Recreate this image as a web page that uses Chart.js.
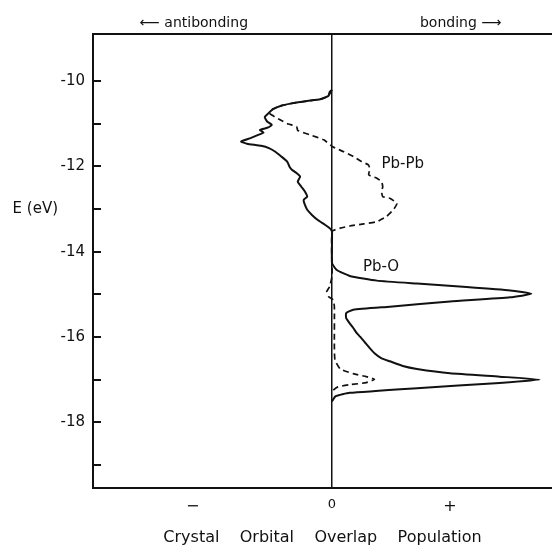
<!DOCTYPE html>
<html>
<head>
<meta charset="utf-8">
<script src="https://cdn.jsdelivr.net/npm/chart.js@4/dist/chart.umd.min.js"></script>
<style>
  body { margin: 0; background: #fff; }
  #wrap { width: 552px; height: 550px; }
</style>
</head>
<body>
<div id="wrap"><canvas id="coopChart"></canvas></div>
<script>
// Pb-O curve (solid): energy in eV and COOP value
const pbO_E = [
  -10.21, -10.26, -10.35, -10.43, -10.47, -10.52, -10.58, -10.66, -10.76, -10.85,
  -10.95, -11.03, -11.09, -11.15, -11.21, -11.26, -11.34, -11.42, -11.47, -11.52,
  -11.58, -11.66, -11.77, -11.89, -12.01, -12.08, -12.16, -12.24, -12.36, -12.48,
  -12.59, -12.71, -12.79, -12.90, -13.02, -13.14, -13.26, -13.37, -13.45, -13.53,
  -14.27, -14.43, -14.57, -14.68, -14.75, -14.83, -14.91, -14.99, -15.07, -15.17,
  -15.29, -15.36, -15.44, -15.56, -15.68, -15.79, -15.91, -16.00, -16.13, -16.26,
  -16.38, -16.50, -16.57, -16.68, -16.75, -16.85, -16.93, -17.00, -17.08, -17.20,
  -17.31, -17.39, -17.51
];
const pbO_coop = [
  0, -0.02, -0.03, -0.10, -0.21, -0.33, -0.43, -0.50, -0.54, -0.57,
  -0.55, -0.51, -0.54, -0.61, -0.58, -0.62, -0.69, -0.77, -0.72, -0.60,
  -0.53, -0.48, -0.43, -0.38, -0.36, -0.34, -0.30, -0.27, -0.29, -0.26,
  -0.23, -0.21, -0.24, -0.23, -0.21, -0.17, -0.12, -0.06, -0.02, 0,
  0, 0.04, 0.15, 0.38, 0.72, 1.14, 1.51, 1.69, 1.51, 1.00,
  0.49, 0.18, 0.12, 0.12, 0.15, 0.18, 0.21, 0.24, 0.28, 0.32,
  0.36, 0.42, 0.49, 0.60, 0.72, 1.00, 1.42, 1.76, 1.42, 0.72,
  0.15, 0.03, 0
];

// Pb-Pb curve (dashed)
const pbPb_E = [
  -10.21, -10.35, -10.43, -10.47, -10.52, -10.58, -10.66, -10.75, -10.80, -10.91,
  -11.01, -11.07, -11.16, -11.26, -11.38, -11.55, -11.66, -11.77, -11.89, -11.97,
  -12.08, -12.20, -12.28, -12.36, -12.48, -12.59, -12.71, -12.75, -12.87, -13.02,
  -13.18, -13.30, -13.35, -13.40, -13.45, -13.53,
  -14.57, -14.82, -14.94, -15.05, -15.13, -15.29, -16.22, -16.54, -16.75, -16.86,
  -16.93, -16.99, -17.07, -17.12, -17.17, -17.25, -17.31
];
const pbPb_coop = [
  0, -0.03, -0.10, -0.21, -0.33, -0.43, -0.50, -0.53, -0.51, -0.44,
  -0.37, -0.30, -0.29, -0.19, -0.07, 0.01, 0.10, 0.18, 0.25, 0.31,
  0.32, 0.31, 0.38, 0.42, 0.43, 0.42, 0.43, 0.49, 0.55, 0.52,
  0.46, 0.38, 0.27, 0.15, 0.07, 0,
  0, -0.02, -0.045, -0.03, 0.01, 0.02, 0.02, 0.025, 0.07, 0.18,
  0.29, 0.36, 0.29, 0.15, 0.05, 0.01, 0
];

// axes
const yTicks = [-10, -11, -12, -13, -14, -15, -16, -17, -18, -19];
const xTickVals = [-1.18, 0, 1];
const xTickText = ['\u2212', '0', '+'];
const topTickVals = [-1.17, 1.09];
const topTickText = ['\u27F5 antibonding', 'bonding \u27F6'];
const xTitle = 'Crystal    Orbital    Overlap    Population';
const yTitle = 'E (eV)';

const X_MIN = -2.025, X_MAX = 1.864;
const Y_MIN = -19.54, Y_MAX = -8.9;
const INK = '#111';
const FONT = 'DejaVu Sans';

const toPoints = (es, cs) => es.map((e, i) => ({ x: cs[i], y: e }));

// curve names written next to the curves
const curveLabels = {
  id: 'curveLabels',
  afterDatasetsDraw(chart) {
    const { ctx, scales: { x, y } } = chart;
    ctx.save();
    ctx.font = `15px "${FONT}"`;
    ctx.fillStyle = INK;
    ctx.textAlign = 'center';
    ctx.textBaseline = 'middle';
    ctx.fillText('Pb-Pb', x.getPixelForValue(0.60), y.getPixelForValue(-11.96));
    ctx.fillText('Pb-O', x.getPixelForValue(0.415), y.getPixelForValue(-14.37));
    ctx.restore();
  }
};

new Chart(document.getElementById('coopChart'), {
  type: 'scatter',
  data: {
    datasets: [
      {
        label: 'Pb-O',
        data: toPoints(pbO_E, pbO_coop),
        showLine: true,
        borderColor: INK,
        borderWidth: 2,
        pointRadius: 0,
        tension: 0.15,
        fill: false
      },
      {
        label: 'Pb-Pb',
        data: toPoints(pbPb_E, pbPb_coop),
        showLine: true,
        borderColor: INK,
        borderWidth: 1.7,
        borderDash: [6, 4],
        pointRadius: 0,
        tension: 0.15,
        fill: false
      }
    ]
  },
  options: {
    responsive: true,
    maintainAspectRatio: false,
    animation: false,
    layout: { padding: 0 },
    plugins: { legend: { display: false }, tooltip: { enabled: false } },
    scales: {
      x: {
        type: 'linear',
        position: 'bottom',
        min: X_MIN,
        max: X_MAX,
        afterBuildTicks: s => { s.ticks = xTickVals.map(v => ({ value: v })); },
        afterFit: s => { s.height = 62; },
        grid: {
          drawTicks: false,
          lineWidth: 1.5,
          color: c => (c.tick && c.tick.value === 0) ? INK : 'rgba(0,0,0,0)'
        },
        border: { display: true, color: INK, width: 2 },
        ticks: {
          padding: 9,
          color: INK,
          autoSkip: false,
          maxRotation: 0,
          font: c => ({ family: FONT, size: (c.tick && c.tick.value === 0) ? 13 : 16 }),
          callback: (v, i) => xTickText[i]
        },
        title: {
          display: true,
          text: xTitle,
          color: INK,
          font: { family: FONT, size: 16 },
          padding: { top: 0, bottom: 3 }
        }
      },
      xTop: {
        type: 'linear',
        position: 'top',
        min: X_MIN,
        max: X_MAX,
        afterBuildTicks: s => { s.ticks = topTickVals.map(v => ({ value: v })); },
        afterFit: s => { s.height = 34; },
        grid: { display: false, drawTicks: false },
        border: { display: true, color: INK, width: 2 },
        ticks: {
          padding: 2,
          color: INK,
          autoSkip: false,
          maxRotation: 0,
          font: { family: FONT, size: 14 },
          callback: (v, i) => topTickText[i]
        }
      },
      y: {
        type: 'linear',
        position: 'left',
        weight: 0,
        min: Y_MIN,
        max: Y_MAX,
        afterBuildTicks: s => { s.ticks = yTicks.map(v => ({ value: v })); },
        afterFit: s => { s.width = 35; },
        grid: { drawOnChartArea: false, drawTicks: true, tickLength: -8, color: INK, lineWidth: 2 },
        border: { display: true, color: INK, width: 2 },
        ticks: {
          padding: 16,
          color: INK,
          autoSkip: false,
          font: { family: FONT, size: 15 },
          callback: v => (v % 2 === 0 ? String(v) : '')
        }
      },
      yLabel: {
        type: 'linear',
        position: 'left',
        weight: 10,
        min: Y_MIN,
        max: Y_MAX,
        afterBuildTicks: s => { s.ticks = [{ value: -13 }]; },
        afterFit: s => { s.width = 58; },
        grid: { display: false, drawTicks: false },
        border: { display: false },
        ticks: {
          padding: 0,
          color: INK,
          autoSkip: false,
          font: { family: FONT, size: 15 },
          callback: () => yTitle
        }
      }
    }
  },
  plugins: [curveLabels]
});
</script>
</body>
</html>
